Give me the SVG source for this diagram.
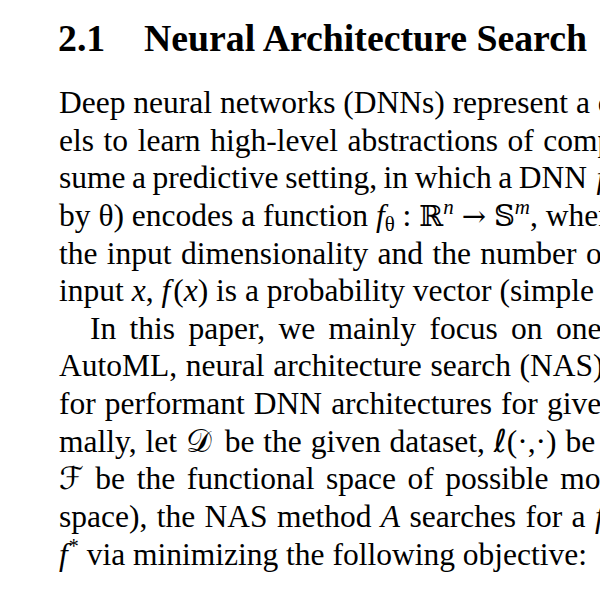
<svg xmlns="http://www.w3.org/2000/svg" width="600" height="600" viewBox="0 0 600 600">
<style>
text{font-family:"Liberation Serif","DejaVu Serif",serif;fill:#000;}
.h{font-size:37.8px;font-weight:bold;}
.b{font-size:31.5px;}
.i{font-style:italic;}
.m{font-family:"DejaVu Serif","DejaVu Sans",serif;}
</style>
<rect width="600" height="600" fill="#fff"/>
<g id="heading">
<text class="h" x="58" y="51">2.1</text>
<text class="h" x="144" y="51">Neural Architecture Search</text>
</g>
<g id="body">
<text class="b" x="59" y="113">Deep neural networks (DNNs) represent a c</text>
<text class="b" x="59" y="151" word-spacing="1.7">els to learn high-level abstractions of comp</text>
<text class="b" x="59" y="188" word-spacing="-1.3">sume a predictive setting, in which a DNN <tspan class="i" dx="3">f</tspan></text>
<text class="b" x="59" y="226">by θ) encodes a function <tspan class="i">f</tspan><tspan font-size="21" dy="5">θ</tspan><tspan dy="-5"> : </tspan><tspan class="m" font-size="29">ℝ</tspan><tspan class="i" font-size="21" dy="-12">n</tspan><tspan dy="12"> </tspan><tspan class="m" font-size="29">→</tspan><tspan> </tspan><tspan class="m" font-size="29">𝕊</tspan><tspan class="i" font-size="21" dy="-12">m</tspan><tspan dy="12">, wher</tspan></text>
<text class="b" x="59" y="264" word-spacing="1.5">the input dimensionality and the number o</text>
<text class="b" x="59" y="301">input <tspan class="i">x</tspan>, <tspan class="i">f</tspan><tspan dx="3">(</tspan><tspan class="i">x</tspan>) is a probability vector (simple</text>
<text class="b" x="90" y="339" word-spacing="5.5">In this paper, we mainly focus on one</text>
<text class="b" x="59" y="376" word-spacing="0.8">AutoML, neural architecture search (NAS)</text>
<text class="b" x="59" y="414" word-spacing="1.2">for performant DNN architectures for give</text>
<text class="b" x="59" y="452" word-spacing="1.0">mally, let <tspan class="m">𝒟</tspan><tspan dx="4"> be the given dataset, </tspan><tspan class="m i">ℓ</tspan>(·,·) be</text>
<text class="b" x="59" y="489" word-spacing="3.7"><tspan class="m">ℱ</tspan> be the functional space of possible mo</text>
<text class="b" x="59" y="527" word-spacing="1.5">space), the NAS method <tspan class="i">A</tspan> searches for a <tspan class="i">f</tspan></text>
<text class="b" x="59" y="565"><tspan class="i">f</tspan><tspan font-size="20" dy="-12" dx="1">*</tspan><tspan dy="12"> via minimizing the following objective:</tspan></text>
</g>
</svg>
